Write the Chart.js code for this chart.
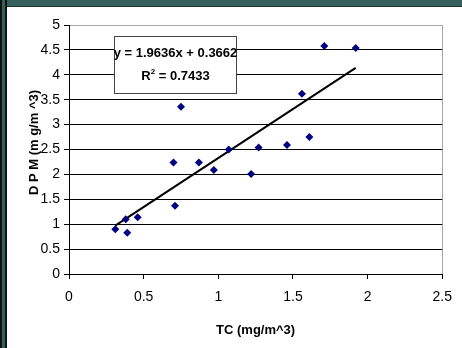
<!DOCTYPE html>
<html>
<head>
<meta charset="utf-8">
<script src="https://cdn.jsdelivr.net/npm/chart.js@4.4.1/dist/chart.umd.min.js"></script>
<style>
    html, body { margin: 0; padding: 0; background: #fff; }
    #wrap { position: relative; width: 462px; height: 348px; overflow: hidden; }
    #chart { position: absolute; left: 0; top: 0; }
    .band-top { position: absolute; left: 0; top: 0; width: 462px; height: 6px; background: #355f5c; border-bottom: 1px solid #1c302e; }
    .band-left { position: absolute; left: 0; top: 0; width: 3px; height: 348px; background: #355f5c; border-left: 2px solid #111; border-right: 2px solid #111; }
</style>
</head>
<body>
<div id="wrap">
    <canvas id="chart" width="462" height="348"></canvas>
    <div class="band-top"></div>
    <div class="band-left"></div>
</div>
<script>
// measured points: TC vs DPM
const tcValues = [0.31, 0.38, 0.39, 0.46, 0.70, 0.71, 0.75, 0.87, 0.97, 1.07, 1.22, 1.27, 1.46, 1.56, 1.61, 1.71, 1.92];
const dpmValues = [0.90, 1.10, 0.83, 1.14, 2.24, 1.37, 3.36, 2.24, 2.09, 2.50, 2.01, 2.54, 2.59, 3.62, 2.75, 4.58, 4.54];

// linear trendline end points as drawn
const trendX = [0.31, 1.92];
const trendY = [0.97, 4.14];

const equationText = 'y = 1.9636x + 0.3662';
const r2Value = '0.7433';

const xTitle = 'TC (mg/m^3)';
const yTitle = 'D P M (m g/m ^3)';

const FONT = "'Liberation Sans', Arial, sans-serif";

// equation box corners in data units
const boxX = [0.30, 1.12];
const boxY = [4.78, 3.63];

const equationBox = {
    id: 'equationBox',
    afterDatasetsDraw(chart) {
        const { ctx, scales: { x, y } } = chart;
        const left = Math.round(x.getPixelForValue(boxX[0])) + 0.5;
        const right = Math.round(x.getPixelForValue(boxX[1])) + 0.5;
        const top = Math.round(y.getPixelForValue(boxY[0])) + 0.5;
        const bottom = Math.round(y.getPixelForValue(boxY[1])) + 0.5;
        ctx.save();
        ctx.fillStyle = '#fff';
        ctx.strokeStyle = '#444';
        ctx.lineWidth = 1;
        ctx.fillRect(left, top, right - left, bottom - top);
        ctx.strokeRect(left, top, right - left, bottom - top);

        const cx = (left + right) / 2;
        ctx.fillStyle = '#000';
        ctx.textBaseline = 'middle';
        ctx.textAlign = 'center';
        ctx.font = 'bold 13px ' + FONT;
        ctx.fillText(equationText, cx, top + 17);

        // R² line, superscript drawn by hand
        const rest = ' = ' + r2Value;
        const wR = ctx.measureText('R').width;
        const wRest = ctx.measureText(rest).width;
        ctx.font = 'bold 8px ' + FONT;
        const wSup = ctx.measureText('2').width;
        const total = wR + wSup + wRest;
        let tx = cx - total / 2;
        const ly = top + 40;
        ctx.textAlign = 'left';
        ctx.font = 'bold 13px ' + FONT;
        ctx.fillText('R', tx, ly);
        tx += wR;
        ctx.font = 'bold 8px ' + FONT;
        ctx.fillText('2', tx, ly - 5);
        tx += wSup;
        ctx.font = 'bold 13px ' + FONT;
        ctx.fillText(rest, tx, ly);
        ctx.restore();
    }
};

const yAxisTitle = {
    id: 'yAxisTitle',
    afterDraw(chart) {
        const { ctx, chartArea } = chart;
        ctx.save();
        ctx.translate(chartArea.left - 35, (chartArea.top + chartArea.bottom) / 2 - 7);
        ctx.rotate(-Math.PI / 2);
        ctx.font = 'bold 13px ' + FONT;
        ctx.fillStyle = '#000';
        ctx.textAlign = 'center';
        ctx.textBaseline = 'middle';
        ctx.fillText(yTitle, 0, 0);
        ctx.restore();
    }
};

const ctx = document.getElementById('chart').getContext('2d');

new Chart(ctx, {
    type: 'scatter',
    data: {
        datasets: [
            {
                label: 'DPM',
                data: tcValues.map((v, i) => ({ x: v, y: dpmValues[i] })),
                pointStyle: 'rectRot',
                pointRadius: 4,
                backgroundColor: '#000080',
                borderColor: '#000080',
                borderWidth: 0,
                order: 1
            },
            {
                type: 'line',
                label: 'Trend',
                data: trendX.map((v, i) => ({ x: v, y: trendY[i] })),
                borderColor: '#000',
                borderWidth: 2,
                pointRadius: 0,
                fill: false,
                order: 2
            }
        ]
    },
    options: {
        responsive: false,
        animation: false,
        events: [],
        layout: { padding: { left: 0, top: 25, right: 11, bottom: 0 } },
        plugins: {
            legend: { display: false },
            tooltip: { enabled: false }
        },
        scales: {
            x: {
                type: 'linear',
                min: 0,
                max: 2.5,
                afterFit: s => { s.height = 74; },
                ticks: {
                    stepSize: 0.5,
                    color: '#000',
                    padding: 10,
                    font: { family: FONT, size: 14 },
                    callback: v => String(v)
                },
                grid: {
                    color: c => (c.tick && c.tick.value === 2.5 ? '#a8a8a8' : 'rgba(0,0,0,0)'),
                    tickColor: '#000',
                    tickLength: 5
                },
                border: { color: '#000', width: 1 },
                title: {
                    display: true,
                    text: xTitle,
                    color: '#000',
                    padding: { top: 0, bottom: 10 },
                    font: { family: FONT, size: 13, weight: 'bold' }
                }
            },
            y: {
                type: 'linear',
                min: 0,
                max: 5,
                afterFit: s => { s.width = 69; },
                ticks: {
                    stepSize: 0.5,
                    color: '#000',
                    padding: 4,
                    font: { family: FONT, size: 14 },
                    callback: v => String(v)
                },
                grid: {
                    color: c => (c.tick && c.tick.value === 5 ? '#a8a8a8' : '#000'),
                    tickColor: '#000',
                    tickLength: 5
                },
                border: { color: '#000', width: 1 }
            }
        }
    },
    plugins: [equationBox, yAxisTitle]
});
</script>
</body>
</html>
